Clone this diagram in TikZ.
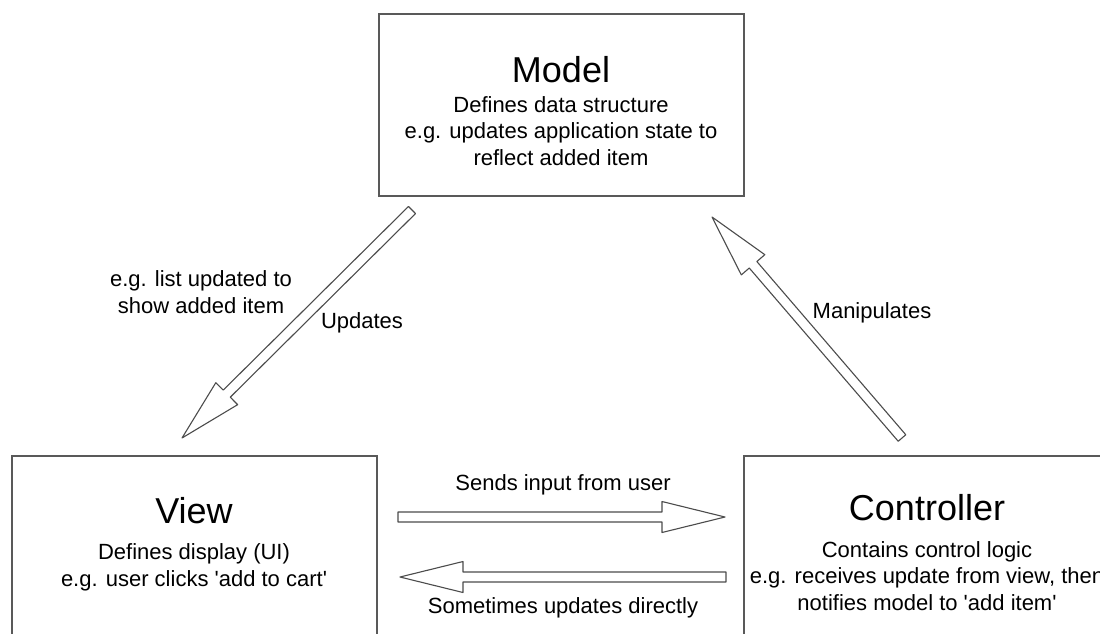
\documentclass[tikz,border=0pt]{standalone}
\usepackage{fontspec}
\setmainfont{Liberation Sans}
\usetikzlibrary{calc,positioning}

% hollow block arrow from #1 (tail) to #2 (tip)
\newcommand\hollowarrow[2]{%
  \coordinate (hb) at ($(#2)!63pt!(#1)$);
  \draw[hollow] ($(#1)!5pt!90:(#2)$) -- ($(hb)!5pt!90:(#2)$)
    -- ($(hb)!15.5pt!90:(#2)$) -- (#2) -- ($(hb)!15.5pt!-90:(#2)$)
    -- ($(hb)!5pt!-90:(#2)$) -- ($(#1)!5pt!-90:(#2)$) -- cycle;}

\begin{document}
\begin{tikzpicture}[x=1pt, y=-1pt,
    box/.style={draw=black!65, line width=1.6pt, minimum width=365pt, anchor=north west},
    title/.style={font=\fontsize{36}{40}\selectfont, anchor=base},
    body/.style={font=\fontsize{22}{26.5}\selectfont, align=center, anchor=base},
    note/.style={font=\fontsize{22}{27}\selectfont, align=center},
    hollow/.style={draw=black!70, line width=1.1pt, fill=white, line join=round}]
    \clip (0,0) rectangle (1100,633);
    \fill[white] (0,0) rectangle (1100,633);

    % the three boxes
    \node[box, minimum height=182pt] (model) at (378,13) {};
    \node[box, minimum height=200pt] (view) at (11,455) {};
    \node[box, minimum height=200pt, minimum width=368pt] (controller) at (743,455) {};

    % base is the last line of each text
    \node[title] (model-title) at (561,82) {Model};
    \node[body] (model-text) at (561,165) {Defines data structure\\e.g. updates application state to\\reflect added item};
    \node[title] (view-title) at (194,523) {View};
    \node[body] (view-text) at (194,586) {Defines display (UI)\\e.g. user clicks \textquotesingle add to cart\textquotesingle};
    \node[title] (controller-title) at (927,520) {Controller};
    \node[body] (controller-text) at (927,610) {Contains control logic\\e.g. receives update from view, then\\notifies model to \textquotesingle add item\textquotesingle};

    % arrow ends
    \coordinate (upd-tail) at (412,210);
    \coordinate (upd-tip) at (182,438);
    \coordinate (man-tail) at (902,438);
    \coordinate (man-tip) at (712,217);
    \coordinate (send-tail) at (398,517);
    \coordinate (send-tip) at (725,517);
    \coordinate (back-tail) at (726,577);
    \coordinate (back-tip) at (400,577);

    \hollowarrow{upd-tail}{upd-tip}
    \hollowarrow{man-tail}{man-tip}
    \hollowarrow{send-tail}{send-tip}
    \hollowarrow{back-tail}{back-tip}

    \node[note] (upd-label) at (362,323) {Updates};
    \node[note] (upd-note) at (201,292) {e.g. list updated to\\show added item};
    \node[note] (man-label) at (872,313) {Manipulates};
    \node[note] (send-label) at (563,485) {Sends input from user};
    \node[note] (back-label) at (563,608) {Sometimes updates directly};
\end{tikzpicture}
\end{document}
